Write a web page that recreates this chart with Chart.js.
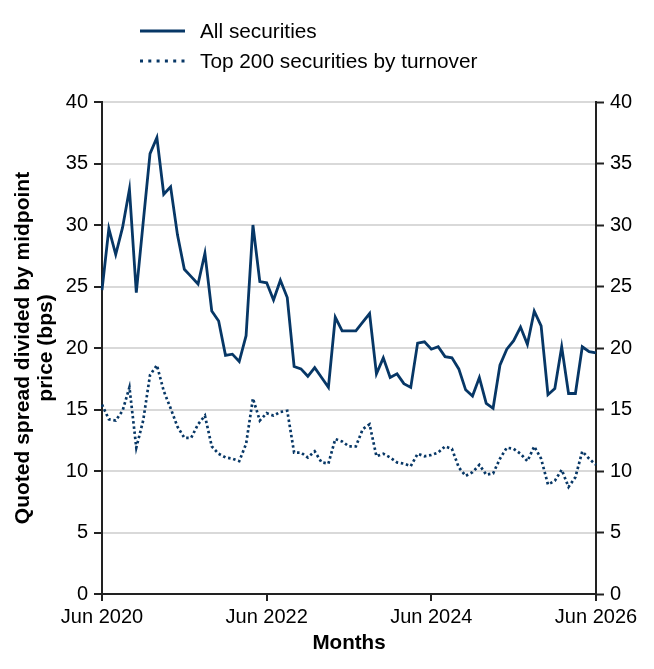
<!DOCTYPE html>
<html>
<head>
<meta charset="utf-8">
<script src="https://cdn.jsdelivr.net/npm/chart.js@4.4.1/dist/chart.umd.min.js"></script>
<style>
  html, body { margin: 0; padding: 0; background: #fff; }
  #wrap { width: 654px; height: 669px; }
</style>
</head>
<body>
<div id="wrap"><canvas id="c" width="654" height="669"></canvas></div>
<script>
// ---- data ----
const months = [
  'Jun 2020','Jul 2020','Aug 2020','Sep 2020','Oct 2020','Nov 2020','Dec 2020',
  'Jan 2021','Feb 2021','Mar 2021','Apr 2021','May 2021','Jun 2021','Jul 2021','Aug 2021','Sep 2021','Oct 2021','Nov 2021','Dec 2021',
  'Jan 2022','Feb 2022','Mar 2022','Apr 2022','May 2022','Jun 2022','Jul 2022','Aug 2022','Sep 2022','Oct 2022','Nov 2022','Dec 2022',
  'Jan 2023','Feb 2023','Mar 2023','Apr 2023','May 2023','Jun 2023','Jul 2023','Aug 2023','Sep 2023','Oct 2023','Nov 2023','Dec 2023',
  'Jan 2024','Feb 2024','Mar 2024','Apr 2024','May 2024','Jun 2024','Jul 2024','Aug 2024','Sep 2024','Oct 2024','Nov 2024','Dec 2024',
  'Jan 2025','Feb 2025','Mar 2025','Apr 2025','May 2025','Jun 2025','Jul 2025','Aug 2025','Sep 2025','Oct 2025','Nov 2025','Dec 2025',
  'Jan 2026','Feb 2026','Mar 2026','Apr 2026','May 2026','Jun 2026'
];

const allSecurities = [
  24.7, 29.7, 27.6, 29.8, 32.9, 24.5, 30.2, 35.8, 37.1, 32.5, 33.1, 29.2, 26.4,
  25.8, 25.2, 27.7, 23.0, 22.2, 19.4, 19.5, 18.9, 21.0, 30.0, 25.4, 25.3,
  23.9, 25.5, 24.1, 18.5, 18.3, 17.7, 18.4, 17.6, 16.8, 22.5, 21.4, 21.4,
  21.4, 22.1, 22.8, 17.9, 19.2, 17.6, 17.9, 17.1, 16.8, 20.4, 20.5, 19.9,
  20.1, 19.3, 19.2, 18.3, 16.6, 16.1, 17.6, 15.5, 15.1, 18.6, 19.9, 20.6,
  21.7, 20.3, 23.0, 21.8, 16.2, 16.7, 20.1, 16.3, 16.3, 20.1, 19.7, 19.6
];

const top200 = [
  15.4, 14.2, 14.1, 14.9, 16.8, 11.9, 14.1, 17.8, 18.6, 16.5, 15.1, 13.6, 12.7,
  12.7, 13.8, 14.5, 12.0, 11.4, 11.1, 11.0, 10.8, 12.2, 15.9, 14.1, 14.7,
  14.5, 14.8, 14.9, 11.5, 11.5, 11.1, 11.6, 10.7, 10.6, 12.6, 12.4, 12.0,
  12.0, 13.4, 13.8, 11.2, 11.4, 11.1, 10.7, 10.6, 10.4, 11.4, 11.2, 11.3,
  11.5, 12.0, 11.8, 10.3, 9.6, 9.9, 10.5, 9.7, 9.8, 11.0, 11.9, 11.8,
  11.4, 10.8, 12.0, 11.0, 8.9, 9.2, 10.1, 8.7, 9.5, 11.6, 11.0, 10.5
];

const xTickLabels = ['Jun 2020', 'Jun 2022', 'Jun 2024', 'Jun 2026'];
const seriesNames = ['All securities', 'Top 200 securities by turnover'];
const yTitle = ['Quoted spread divided by midpoint', 'price (bps)'];
const xTitle = 'Months';

// ---- style ----
const NAVY = '#073766';
const AXIS = '#222222';
const GRID = '#d9d9d9';
const FONT = '"Liberation Sans", Arial, sans-serif';

const legendPlugin = {
  id: 'stackedLegend',
  afterDraw(chart) {
    const ctx = chart.ctx;
    ctx.save();
    chart.data.datasets.forEach((ds, i) => {
      const y = 31 + i * 30;
      ctx.beginPath();
      ctx.setLineDash(ds.legendDash || []);
      ctx.lineWidth = ds.borderWidth + 0.2;
      ctx.strokeStyle = ds.borderColor;
      ctx.moveTo(140, y);
      ctx.lineTo(185, y);
      ctx.stroke();
      ctx.setLineDash([]);
      ctx.fillStyle = '#000';
      ctx.font = '20.8px ' + FONT;
      ctx.textBaseline = 'middle';
      ctx.textAlign = 'left';
      ctx.fillText(ds.label, 200, y + 1);
    });
    ctx.restore();
  }
};

const yTicks = { stepSize: 5, color: '#000', font: { family: FONT, size: 20 }, padding: 6 };

new Chart(document.getElementById('c'), {
  type: 'line',
  data: {
    labels: months,
    datasets: [
      { label: seriesNames[0], data: allSecurities, borderColor: NAVY, borderWidth: 2.8,
        pointRadius: 0, tension: 0, fill: false },
      { label: seriesNames[1], data: top200, borderColor: NAVY, borderWidth: 2.7,
        borderDash: [2.5, 2.7], legendDash: [3, 5.3], pointRadius: 0, tension: 0, fill: false }
    ]
  },
  options: {
    responsive: false,
    animation: false,
    devicePixelRatio: 1,
    layout: { padding: { top: 102, left: 0, right: 0, bottom: 0 } },
    plugins: { legend: { display: false }, tooltip: { enabled: false } },
    scales: {
      x: {
        type: 'category',
        offset: false,
        grid: { display: true, drawOnChartArea: false, drawTicks: true, tickLength: 7,
                color: AXIS, lineWidth: 2 },
        border: { display: true, color: AXIS, width: 2 },
        ticks: {
          autoSkip: false, maxRotation: 0, minRotation: 0, padding: 4,
          color: '#000', font: { family: FONT, size: 20 },
          callback: function (v, i) { return xTickLabels.includes(months[i]) ? months[i] : null; }
        },
        title: { display: true, text: xTitle, color: '#000',
                 font: { family: FONT, size: 20.6, weight: 'bold', lineHeight: 1.1 },
                 padding: { top: 0, bottom: 14 } },
        afterFit: (s) => { s.height = 75; }
      },
      y: {
        position: 'left', min: 0, max: 40,
        ticks: yTicks,
        grid: { color: GRID, lineWidth: 2, tickLength: 8, tickColor: AXIS, tickWidth: 2 },
        border: { display: true, color: AXIS, width: 2 },
        title: { display: true, text: yTitle, color: '#000',
                 font: { family: FONT, size: 21, weight: 'bold', lineHeight: 1.1 },
                 padding: { top: 12, bottom: 0 } },
        afterFit: (s) => { s.width = 102; }
      },
      y2: {
        position: 'right', min: 0, max: 40,
        ticks: yTicks,
        grid: { drawOnChartArea: false, tickLength: 8, color: AXIS, tickColor: AXIS, tickWidth: 2 },
        border: { display: true, color: AXIS, width: 2 },
        afterFit: (s) => { s.width = 58; }
      }
    }
  },
  plugins: [legendPlugin]
});
</script>
</body>
</html>
